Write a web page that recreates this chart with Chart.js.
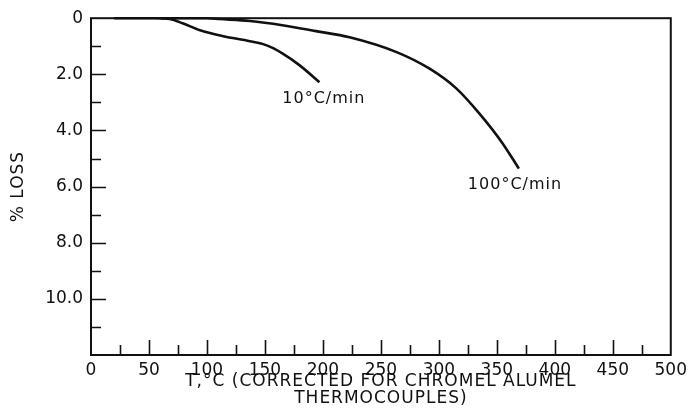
<!DOCTYPE html>
<html>
<head>
<meta charset="utf-8">
<script src="https://cdn.jsdelivr.net/npm/chart.js@4/dist/chart.umd.min.js"></script>
<style>
  html, body { margin:0; padding:0; background:#fff; }
  #wrap { width:692px; height:420px; }
</style>
</head>
<body>
<div id="wrap"><canvas id="tga" width="692" height="420"></canvas></div>
<script>
// curvas de pérdida de peso (lectura aproximada del gráfico)
const temp10  = [20, 55, 68, 79, 94, 114, 137, 151, 165, 180, 197];
const loss10  = [0, 0, 0.03, 0.18, 0.43, 0.64, 0.82, 0.96, 1.25, 1.68, 2.28];
const temp100 = [60, 100, 111, 137, 165, 194, 223, 263, 292, 315, 335, 355, 369];
const loss100 = [0, 0, 0.03, 0.1, 0.25, 0.46, 0.68, 1.2, 1.8, 2.5, 3.4, 4.46, 5.36];

const curveLabels = ['10°C/min', '100°C/min'];
const labelT      = [165, 325];
const labelLoss   = [2.88, 5.92];

const xTitle = ['T,°C (CORRECTED FOR CHROMEL ALUMEL', 'THERMOCOUPLES)'];
const yTitle = '% LOSS';

const FONT = 'DejaVu Sans';
const INK = '#111';

const toPts = (xs, ys) => xs.map((x, i) => ({ x, y: ys[i] }));

// títulos con algo de espaciado entre letras
function spacedTitle(s){
  if (s._spaced) return;
  const orig = s.drawTitle;
  s.drawTitle = function(){
    this.ctx.save();
    this.ctx.letterSpacing = '1px';
    orig.call(this);
    this.ctx.restore();
  };
  s._spaced = true;
}

// marco y marcas hacia adentro
const frameTicks = {
  id: 'frameTicks',
  afterDatasetsDraw(chart){
    const { ctx, chartArea:a, scales:{ x, y } } = chart;
    ctx.save();
    ctx.strokeStyle = INK;
    ctx.lineWidth = 2;
    ctx.strokeRect(a.left, a.top, a.right - a.left, a.bottom - a.top);
    ctx.lineWidth = 1.6;
    ctx.beginPath();
    for (let t = 25; t < 500; t += 25){
      const px = Math.round(x.getPixelForValue(t)) + 0.5;
      const len = t % 50 === 0 ? 15 : 10;
      ctx.moveTo(px, a.bottom); ctx.lineTo(px, a.bottom - len);
    }
    for (let v = 1; v < 12; v++){
      const py = Math.round(y.getPixelForValue(v)) + 0.5;
      const len = v % 2 === 0 ? 15 : 10;
      ctx.moveTo(a.left, py); ctx.lineTo(a.left + len, py);
    }
    ctx.stroke();
    // rótulos de curvas
    ctx.fillStyle = INK;
    ctx.font = `16px "${FONT}"`;
    ctx.letterSpacing = '1px';
    ctx.textAlign = 'left';
    ctx.textBaseline = 'middle';
    curveLabels.forEach((s, i)=> ctx.fillText(s, x.getPixelForValue(labelT[i]), y.getPixelForValue(labelLoss[i])));
    ctx.restore();
  }
};

const lineDs = (label, data) => ({
  label, data, borderColor: INK, borderWidth: 2.6, pointRadius: 0,
  fill: false, cubicInterpolationMode: 'monotone', clip: 4
});

new Chart(document.getElementById('tga').getContext('2d'), {
  type: 'line',
  data: { datasets: [ lineDs('10', toPts(temp10, loss10)), lineDs('100', toPts(temp100, loss100)) ] },
  options: {
    responsive: false, animation: false,
    layout: { padding: { left: 0, right: 20, top: 18, bottom: 0 } },
    plugins: { legend: { display: false }, tooltip: { enabled: false } },
    scales: {
      x: {
        type: 'linear', min: 0, max: 500,
        afterFit: (s)=> { s.height = 65; spacedTitle(s); },
        grid: { display: false, drawTicks: false }, border: { display: false },
        ticks: { stepSize: 50, padding: 5, color: INK, font: { family: FONT, size: 17 } },
        title: { display: true, text: xTitle, color: INK, padding: { top: 0, bottom: 13 },
                 font: { family: FONT, size: 17, lineHeight: 1 } }
      },
      y: {
        type: 'linear', min: 0, max: 12, reverse: true,
        afterFit: (s)=> { s.width = 91; spacedTitle(s); },
        grid: { display: false, drawTicks: false }, border: { display: false },
        ticks: { stepSize: 2, padding: 8, color: INK, font: { family: FONT, size: 17 },
                 callback: (v)=> v >= 12 ? '' : (v === 0 ? '0' : v.toFixed(1)) },
        title: { display: true, text: yTitle, color: INK, padding: { top: 10, bottom: 0 },
                 font: { family: FONT, size: 17, lineHeight: 1 } }
      }
    }
  },
  plugins: [frameTicks]
});
</script>
</body>
</html>
